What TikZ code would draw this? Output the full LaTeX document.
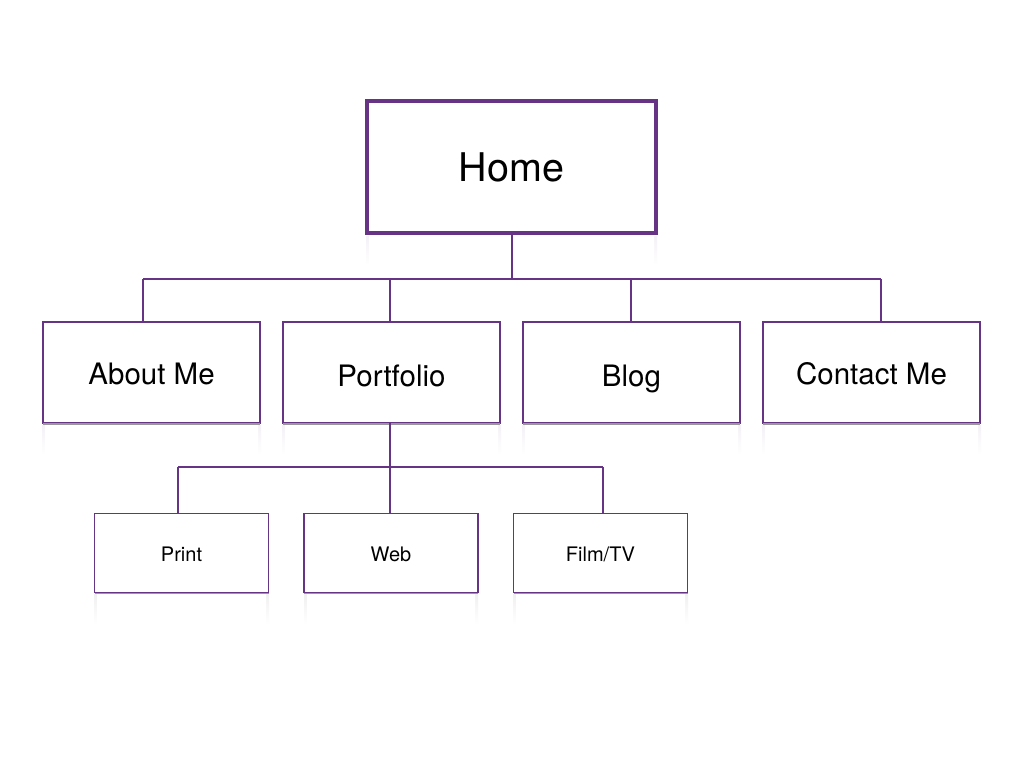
\documentclass[tikz,border=0pt]{standalone}
\usepackage{fontspec}
\setmainfont{TeX Gyre Heros}
\definecolor{pur}{RGB}{102,51,133}
\begin{document}
\begin{tikzpicture}[x=1pt,y=-1pt,
  box/.style={draw=pur,fill=white,rectangle,inner sep=0pt,outer sep=0pt,align=center,text depth=0pt},
  big/.style={box,line width=4pt,minimum width=289pt,minimum height=132pt,font=\fontsize{39.5}{48}\selectfont,text height=29.4pt},
  mid/.style={box,line width=2pt,minimum width=217pt,minimum height=101pt,font=\fontsize{29.5}{34}\selectfont,text height=23.2pt},
  small/.style={box,line width=1.5pt,minimum width=174pt,minimum height=79pt,font=\fontsize{20}{24}\selectfont,text height=16pt},
  wire/.style={draw=pur,line width=2pt},
  dropline/.style={draw=black!40,line width=1.5pt},
  refl/.style={top color=#1,bottom color=white,draw=none}
]
\useasboundingbox (0,0) rectangle (1024,768);
\fill[white] (0,0) rectangle (1024,768);
% reflections
\foreach \xa/\xb/\ya in {366/657/236,42/261/425,282/501/425,522/741/425,762/981/425}{
  \shade[refl=pur!7] (\xa,\ya) rectangle (\xb,\ya+30);
  \shade[refl=white] (\xa+3,\ya) rectangle (\xb-3,\ya+30);
}
\foreach \xa/\xb in {94/269,304/478,513/688}{
  \shade[refl=black!6] (\xa,594) rectangle (\xb,624);
  \shade[refl=white] (\xa+3,594) rectangle (\xb-3,624);
}
% nodes
\node[big] (home) at (511.5,167) {Home};
\node[mid] (about) at (151.5,372.5) {About Me};
\node[mid,text height=27.2pt] (port) at (391.5,372.5) {Portfolio};
\node[mid,text height=27.2pt] (blog) at (631.5,372.5) {Blog};
\node[mid] (contact) at (871.5,372.5) {Contact Me};
\node[small] (print) at (181.5,553) {Print};
\node[small] (web) at (391,553) {Web};
\node[small] (film) at (600.5,553) {Film/TV};
% shadows
\foreach \n in {about,port,blog,contact,print,web,film}{
  \draw[dropline] ([yshift=-1.2pt]\n.south west) -- ([yshift=-1.2pt]\n.south east);
}
% connectors
\coordinate (b0) at (512,279);
\coordinate (b1) at (143,279);
\coordinate (b2) at (390,279);
\coordinate (b3) at (631,279);
\coordinate (b4) at (881,279);
\draw[wire] (home.south -| b0) -- (b0);
\draw[wire] (b1) -- (b4);
\draw[wire] (b1) -- (b1 |- about.north);
\draw[wire] (b2) -- (b2 |- port.north);
\draw[wire] (b3) -- (b3 |- blog.north);
\draw[wire] (b4) -- (b4 |- contact.north);
\coordinate (c0) at (390,467);
\coordinate (c1) at (178,467);
\coordinate (c3) at (603,467);
\draw[wire] (port.south -| c0) -- (c0 |- web.north);
\draw[wire] (c1) -- (c3);
\draw[wire] (c1) -- (c1 |- print.north);
\draw[wire] (c3) -- (c3 |- film.north);
\end{tikzpicture}
\end{document}
